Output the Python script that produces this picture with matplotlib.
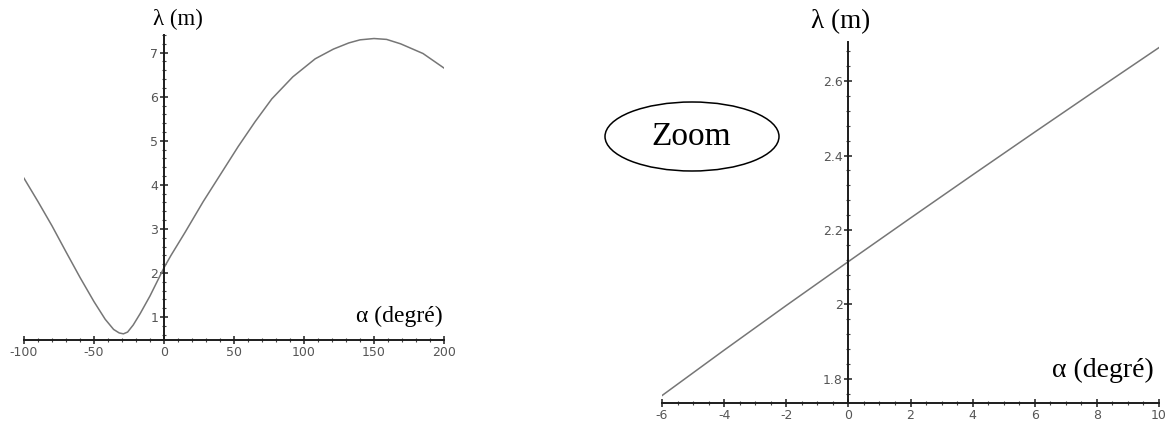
import numpy as np
import matplotlib
matplotlib.use("Agg")
import matplotlib.pyplot as plt
from matplotlib.patches import Ellipse
from matplotlib.ticker import MultipleLocator, FixedLocator, FixedFormatter


# ---------
# > Data <
# ---------
# full range, lambda (m) versus alpha (degree)
alpha_full = [-100, -90, -80, -70, -60, -50, -42, -36, -32, -29, -26, -22, -17, -10, -5,
              0, 5, 15, 28, 40, 53, 65, 77, 92, 108, 121, 132, 140, 150, 159, 169, 185, 200]
lambda_full = [4.15, 3.62, 3.07, 2.48, 1.90, 1.35, 0.95, 0.72, 0.64, 0.62, 0.66, 0.82, 1.08, 1.48, 1.80,
               2.12, 2.40, 2.92, 3.62, 4.22, 4.87, 5.43, 5.95, 6.45, 6.86, 7.08, 7.22, 7.29, 7.32, 7.30, 7.20, 6.98, 6.65]

# zoom around alpha = 0
alpha_zoom = [-6, -4, -2, 0, 2, 4, 6, 8, 10]
lambda_zoom = [1.755, 1.877, 1.997, 2.115, 2.232, 2.348, 2.463, 2.577, 2.69]

full_xticks = [-100, -50, 0, 50, 100, 150, 200]
full_xlabels = ["-100", "-50", "0", "50", "100", "150", "200"]
full_yticks = [1, 2, 3, 4, 5, 6, 7]
full_ylabels = ["1", "2", "3", "4", "5", "6", "7"]

zoom_xticks = [-6, -4, -2, 0, 2, 4, 6, 8, 10]
zoom_xlabels = ["-6", "-4", "-2", "0", "2", "4", "6", "8", "10"]
zoom_yticks = [1.8, 2.0, 2.2, 2.4, 2.6]
zoom_ylabels = ["1.8", "2", "2.2", "2.4", "2.6"]


# color palette
CURVE_COLOR = "#767676"
AXIS_COLOR = "#1c1c1c"
LABEL_COLOR = "#555555"

W, H = 1170, 426


def frac(x0, y0, x1, y1):
    # pixel box (top-left origin) -> figure fraction rect
    return [x0 / W, 1 - y1 / H, (x1 - x0) / W, (y1 - y0) / H]


def maple_axes(ax, xticks, xlabels, yticks, ylabels, xminor, yminor):
    ax.spines["top"].set_visible(False)
    ax.spines["right"].set_visible(False)
    ax.spines["left"].set_position(("data", 0))
    for s in ("left", "bottom"):
        ax.spines[s].set_color(AXIS_COLOR)
        ax.spines[s].set_linewidth(1.4)

    ax.xaxis.set_major_locator(FixedLocator(xticks))
    ax.xaxis.set_major_formatter(FixedFormatter(xlabels))
    ax.yaxis.set_major_locator(FixedLocator(yticks))
    ax.yaxis.set_major_formatter(FixedFormatter(ylabels))
    ax.xaxis.set_minor_locator(MultipleLocator(xminor))
    ax.yaxis.set_minor_locator(MultipleLocator(yminor))

    ax.tick_params(which="major", direction="inout", length=6, width=1.1,
                   color=AXIS_COLOR, labelcolor=LABEL_COLOR, labelsize=9, pad=1)
    ax.tick_params(which="minor", direction="inout", length=3, width=0.8, color="#444444")
    ax.patch.set_alpha(0)


fig = plt.figure(figsize=(W / 100, H / 100), dpi=100)

# left : full range
ax1 = fig.add_axes(frac(24, 35, 444, 340))
ax1.plot(alpha_full, lambda_full, color=CURVE_COLOR, lw=1.1)
ax1.set_xlim(-100, 200)
ax1.set_ylim(0.48, 7.4)
maple_axes(ax1, full_xticks, full_xlabels, full_yticks, full_ylabels, 10, 0.2)

# right : zoom
ax2 = fig.add_axes(frac(662, 42, 1159, 403))
ax2.plot(alpha_zoom, lambda_zoom, color=CURVE_COLOR, lw=1.1)
ax2.set_xlim(-6, 10)
ax2.set_ylim(1.735, 2.705)
maple_axes(ax2, zoom_xticks, zoom_xlabels, zoom_yticks, zoom_ylabels, 0.5, 0.04)

# axis titles
SERIF = ["Liberation Serif", "DejaVu Serif"]
fig.text(153 / W, 1 - 19 / H, "λ (m)", family=SERIF, fontsize=16.5, va="center", ha="left")
fig.text(356 / W, 1 - 316 / H, "α (degré)", family=SERIF, fontsize=17, va="center", ha="left")
fig.text(811 / W, 1 - 22 / H, "λ (m)", family=SERIF, fontsize=19.5, va="center", ha="left")
fig.text(1052 / W, 1 - 370 / H, "α (degré)", family=SERIF, fontsize=20, va="center", ha="left")

# "Zoom" bubble
bubble = Ellipse((692 / W, 1 - 136.5 / H), 174 / W, 69 / H, transform=fig.transFigure,
                 facecolor="none", edgecolor="black", lw=1.1)
fig.patches.append(bubble)
fig.text(691 / W, 1 - 137 / H, "Zoom", family=SERIF, fontsize=24, va="center", ha="center")

fig.savefig("out.png", dpi=100)
plt.close(fig)
